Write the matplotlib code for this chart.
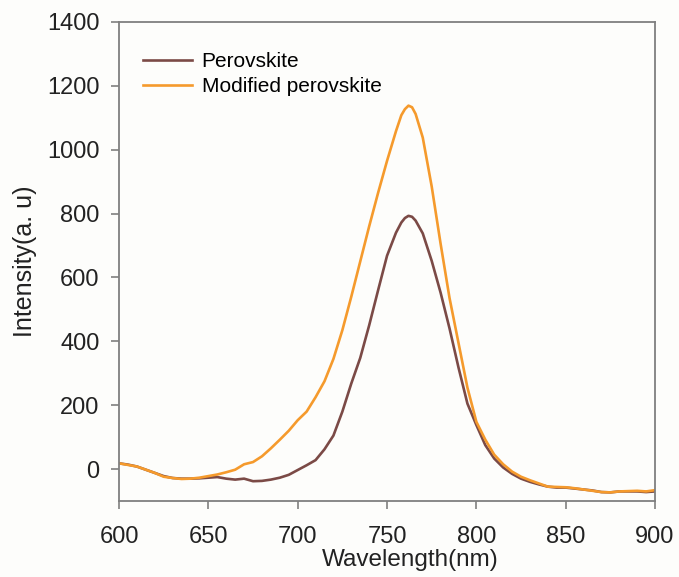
import matplotlib
matplotlib.use("Agg")
import matplotlib.pyplot as plt

plt.rcParams['font.family'] = ['Liberation Sans', 'DejaVu Sans']

# wavelength (nm)
wavelength = [600, 605, 610, 615, 620, 625, 630, 635, 640, 645, 650, 655, 660, 665,
              670, 675, 680, 685, 690, 695, 700, 705, 710, 715, 720, 725, 730, 735,
              740, 745, 750, 755, 758, 760, 762, 764, 766, 770, 775, 780, 785, 790,
              795, 800, 805, 810, 815, 820, 825, 830, 835, 840, 845, 850, 855, 860,
              865, 870, 875, 880, 885, 890, 895, 900]

# PL intensity (a.u.)
perovskite = [18, 14, 8, -2, -12, -22, -28, -30, -30, -29, -27, -25, -30, -33,
              -30, -38, -37, -33, -27, -18, -3, 12, 28, 62, 105, 180, 268, 348,
              450, 560, 668, 740, 772, 786, 793, 790, 778, 738, 652, 552, 440, 318,
              205, 138, 75, 33, 5, -15, -30, -40, -48, -55, -58, -58, -61, -64,
              -67, -72, -73, -70, -70, -70, -72, -70]

modified = [18, 13, 8, -2, -12, -24, -28, -31, -30, -27, -22, -17, -10, -2,
            15, 22, 40, 65, 92, 120, 153, 180, 225, 275, 345, 435, 540, 650,
            760, 865, 965, 1058, 1108, 1127, 1138, 1133, 1112, 1038, 885, 705, 535, 395,
            255, 148, 92, 45, 15, -8, -24, -35, -45, -55, -56, -57, -60, -64,
            -68, -72, -73, -70, -69, -68, -70, -66]

brown = '#7b4a46'
orange = '#f59a2c'
text_col = '#222222'

fig = plt.figure(figsize=(6.79, 5.77), dpi=100, facecolor='#fdfdfb')
ax = fig.add_axes([0.1753, 0.1317, 0.7894, 0.8302])
ax.set_facecolor('#fdfdfb')

ax.plot(wavelength, perovskite, color=brown, lw=1.9, label='Perovskite')
ax.plot(wavelength, modified, color=orange, lw=1.9, label='Modified perovskite')

ax.set_xlim(600, 900)
ax.set_ylim(-100, 1400)
ax.set_xticks([600, 650, 700, 750, 800, 850, 900])
ax.set_yticks([0, 200, 400, 600, 800, 1000, 1200, 1400])

for s in ax.spines.values():
    s.set_color('#7f7f7f')
    s.set_linewidth(1.3)

ax.tick_params(axis='x', direction='out', length=6, width=1.2, color='#7f7f7f',
               labelsize=17, labelcolor=text_col, pad=12)
ax.tick_params(axis='y', direction='out', length=6, width=1.2, color='#7f7f7f',
               labelsize=17, labelcolor=text_col, pad=8)

ax.set_xlabel('Wavelength(nm)', fontsize=17.5, color=text_col)
ax.xaxis.set_label_coords(0.543, -0.101)
ax.set_ylabel('Intensity(a. u)', fontsize=18, color=text_col, labelpad=7)

ax.legend(loc='upper left', frameon=False, fontsize=15, handlelength=2.35,
          handletextpad=0.45, labelspacing=0.3, bbox_to_anchor=(0.018, 0.968),
          borderaxespad=0.3)

fig.savefig('out.png', dpi=100, facecolor=fig.get_facecolor())
